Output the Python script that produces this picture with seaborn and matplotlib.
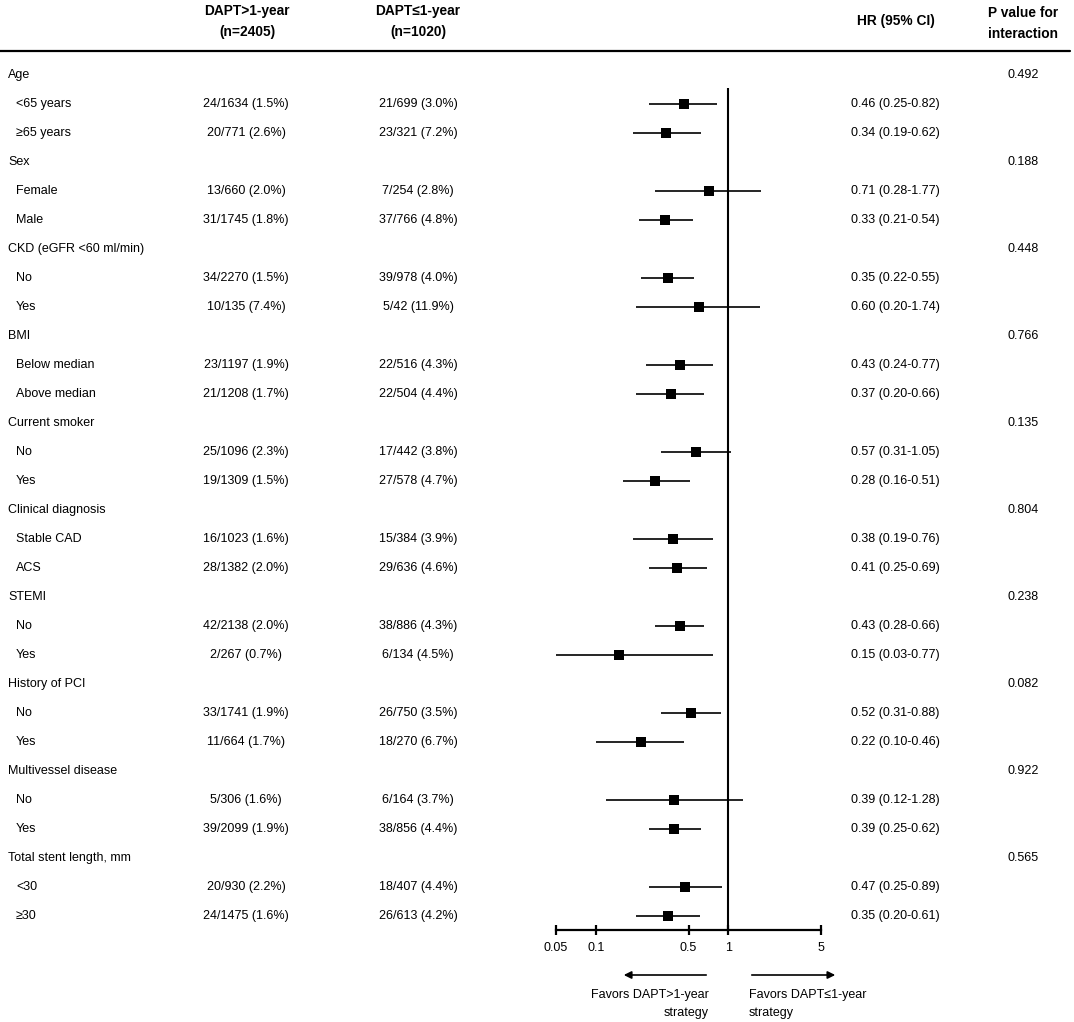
import numpy as np
import pandas as pd
import matplotlib
matplotlib.use("Agg")
import matplotlib.pyplot as plt
import matplotlib.transforms as mtransforms
from matplotlib.lines import Line2D
import seaborn as sns

# ---------------- data ----------------
groups = ["Age", "Sex", "CKD (eGFR <60 ml/min)", "BMI", "Current smoker",
          "Clinical diagnosis", "STEMI", "History of PCI", "Multivessel disease",
          "Total stent length, mm"]
p_interaction = ["0.492", "0.188", "0.448", "0.766", "0.135",
                 "0.804", "0.238", "0.082", "0.922", "0.565"]
subgroups = ["<65 years", "≥65 years", "Female", "Male", "No", "Yes",
             "Below median", "Above median", "No", "Yes", "Stable CAD", "ACS",
             "No", "Yes", "No", "Yes", "No", "Yes", "<30", "≥30"]
events_long = ["24/1634 (1.5%)", "20/771 (2.6%)", "13/660 (2.0%)", "31/1745 (1.8%)",
               "34/2270 (1.5%)", "10/135 (7.4%)", "23/1197 (1.9%)", "21/1208 (1.7%)",
               "25/1096 (2.3%)", "19/1309 (1.5%)", "16/1023 (1.6%)", "28/1382 (2.0%)",
               "42/2138 (2.0%)", "2/267 (0.7%)", "33/1741 (1.9%)", "11/664 (1.7%)",
               "5/306 (1.6%)", "39/2099 (1.9%)", "20/930 (2.2%)", "24/1475 (1.6%)"]
events_short = ["21/699 (3.0%)", "23/321 (7.2%)", "7/254 (2.8%)", "37/766 (4.8%)",
                "39/978 (4.0%)", "5/42 (11.9%)", "22/516 (4.3%)", "22/504 (4.4%)",
                "17/442 (3.8%)", "27/578 (4.7%)", "15/384 (3.9%)", "29/636 (4.6%)",
                "38/886 (4.3%)", "6/134 (4.5%)", "26/750 (3.5%)", "18/270 (6.7%)",
                "6/164 (3.7%)", "38/856 (4.4%)", "18/407 (4.4%)", "26/613 (4.2%)"]
hr = [0.46, 0.34, 0.71, 0.33, 0.35, 0.60, 0.43, 0.37, 0.57, 0.28,
      0.38, 0.41, 0.43, 0.15, 0.52, 0.22, 0.39, 0.39, 0.47, 0.35]
ci_low = [0.25, 0.19, 0.28, 0.21, 0.22, 0.20, 0.24, 0.20, 0.31, 0.16,
          0.19, 0.25, 0.28, 0.03, 0.31, 0.10, 0.12, 0.25, 0.25, 0.20]
ci_high = [0.82, 0.62, 1.77, 0.54, 0.55, 1.74, 0.77, 0.66, 1.05, 0.51,
           0.76, 0.69, 0.66, 0.77, 0.88, 0.46, 1.28, 0.62, 0.89, 0.61]
x_ticks = [0.05, 0.1, 0.5, 1, 5]
x_ticklabels = ["0.05", "0.1", "0.5", "1", "5"]
col_headers = [("DAPT>1-year", "(n=2405)"), ("DAPT≤1-year", "(n=1020)")]
hr_header = "HR (95% CI)"
p_header = ("P value for", "interaction")
favor_left = ("Favors DAPT>1-year", "strategy")
favor_right = ("Favors DAPT≤1-year", "strategy")

# ---------------- layout ----------------
sns.set_theme(style="white")
plt.rcParams["font.family"] = ["Liberation Sans", "DejaVu Sans"]
plt.rcParams["text.color"] = "black"
plt.rcParams["xtick.color"] = "black"
plt.rcParams["xtick.labelcolor"] = "black"

W, H = 1074, 1022
fig = plt.figure(figsize=(W / 100, H / 100), dpi=100)


def fx(px):
    return px / W


def fy(py):
    return 1 - py / H


ROW0, ROWH = 75, 29
ax_top_px, ax_bot_px = 51, 930
ax = fig.add_axes([fx(556), fy(ax_bot_px), fx(821) - fx(556), (ax_bot_px - ax_top_px) / H])

sub_rows = []
for g in range(len(groups)):
    sub_rows += [3 * g + 1, 3 * g + 2]
df = pd.DataFrame({"row": sub_rows, "hr": hr, "lo": ci_low, "hi": ci_high})

ax.hlines(df["row"], df["lo"], df["hi"], color="black", lw=1.2, zorder=2)
sns.scatterplot(data=df, x="hr", y="row", marker="s", s=62, color="black",
                edgecolor="black", linewidth=0, ax=ax, legend=False, zorder=3)

ax.set_xscale("log")
ax.set_xlim(0.05, 5)
ylim_bot = (ax_bot_px - ROW0) / ROWH
ylim_top = (ax_top_px - ROW0) / ROWH
ax.set_ylim(ylim_bot, ylim_top)
ax.vlines(1, (88 - ROW0) / ROWH, ylim_bot, color="black", lw=1.5, zorder=1)

ax.set_xticks(x_ticks)
ax.set_xticklabels(x_ticklabels)
ax.minorticks_off()
ax.set_yticks([])
ax.set_xlabel("")
ax.set_ylabel("")
for s in ["top", "right", "left"]:
    ax.spines[s].set_visible(False)
ax.spines["bottom"].set_linewidth(1.6)
ax.spines["bottom"].set_color("black")
ax.tick_params(axis="x", direction="inout", length=7, width=1.6, color="black",
               pad=5, labelsize=9, labelcolor="black", bottom=True)
ax.patch.set_alpha(0)

# ---------------- table text ----------------
tr = mtransforms.blended_transform_factory(fig.transFigure, ax.transData)
FS = 9
for g, name in enumerate(groups):
    r = 3 * g
    fig.text(fx(8), r, name, transform=tr, ha="left", va="center", fontsize=FS)
    fig.text(fx(1023), r, p_interaction[g], transform=tr, ha="center", va="center", fontsize=FS)

for i, r in enumerate(sub_rows):
    fig.text(fx(16), r, subgroups[i], transform=tr, ha="left", va="center", fontsize=FS)
    fig.text(fx(246), r, events_long[i], transform=tr, ha="center", va="center", fontsize=FS)
    fig.text(fx(418), r, events_short[i], transform=tr, ha="center", va="center", fontsize=FS)
    lab = f"{hr[i]:.2f} ({ci_low[i]:.2f}-{ci_high[i]:.2f})"
    fig.text(fx(895), r, lab, transform=tr, ha="center", va="center", fontsize=FS)

# ---------------- header ----------------
HFS = 9.9
for (l1, l2), cx in zip(col_headers, [247, 418]):
    fig.text(fx(cx), fy(11), l1, ha="center", va="center", fontsize=HFS, fontweight="bold")
    fig.text(fx(cx), fy(32), l2, ha="center", va="center", fontsize=HFS, fontweight="bold")
fig.text(fx(896), fy(21), hr_header, ha="center", va="center", fontsize=HFS, fontweight="bold")
fig.text(fx(1023), fy(13), p_header[0], ha="center", va="center", fontsize=HFS, fontweight="bold")
fig.text(fx(1023), fy(34), p_header[1], ha="center", va="center", fontsize=HFS, fontweight="bold")
fig.add_artist(Line2D([fx(0), fx(1070)], [fy(51), fy(51)], color="black", lw=1.6,
                      transform=fig.transFigure))

# ---------------- favors arrows ----------------
fig.add_artist(matplotlib.patches.FancyArrowPatch(
    (fx(709), fy(975)), (fx(621), fy(975)), transform=fig.transFigure,
    arrowstyle="-|>", mutation_scale=11, lw=1.2, color="black"))
fig.add_artist(matplotlib.patches.FancyArrowPatch(
    (fx(749), fy(975)), (fx(838), fy(975)), transform=fig.transFigure,
    arrowstyle="-|>", mutation_scale=11, lw=1.2, color="black"))
fig.text(fx(709), fy(995), favor_left[0], ha="right", va="center", fontsize=FS)
fig.text(fx(709), fy(1013), favor_left[1], ha="right", va="center", fontsize=FS)
fig.text(fx(749), fy(995), favor_right[0], ha="left", va="center", fontsize=FS)
fig.text(fx(749), fy(1013), favor_right[1], ha="left", va="center", fontsize=FS)

fig.savefig("out.png", dpi=100, facecolor="white")
